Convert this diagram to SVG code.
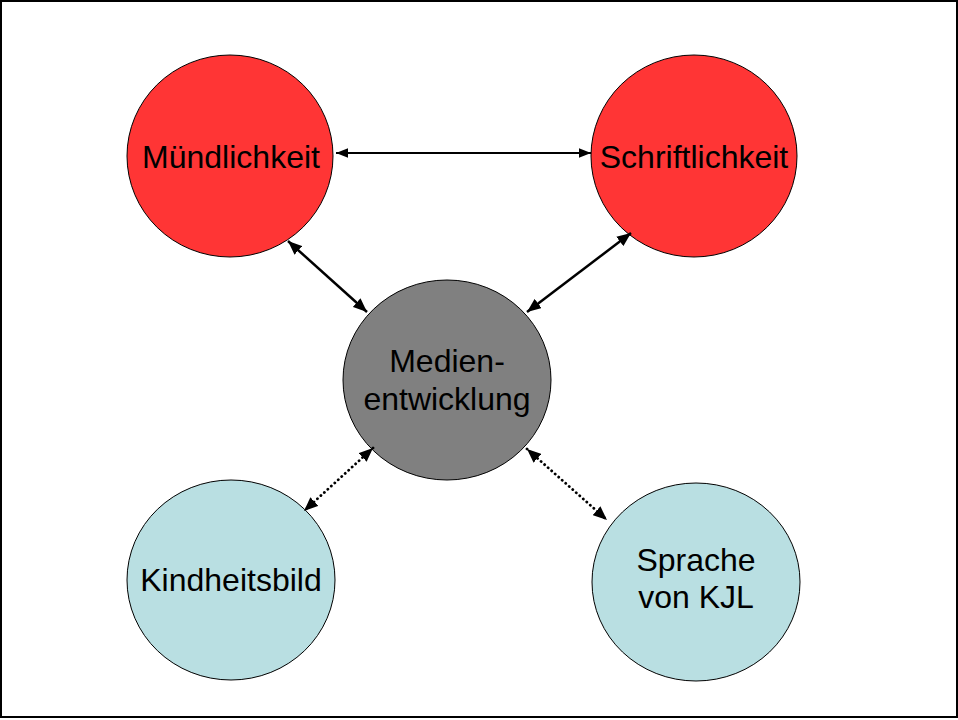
<svg xmlns="http://www.w3.org/2000/svg" width="958" height="720" viewBox="0 0 958 720">
<defs>
<style>
.node ellipse{stroke:#000;stroke-width:1}
.red ellipse{fill:#FF3535}
.gray ellipse{fill:#808080}
.blue ellipse{fill:#B9DFE2}
.node text{font-family:"Liberation Sans",Arial,sans-serif;font-size:32px;fill:#000;text-anchor:middle}
.conn{stroke:#000;fill:none}
.solid{stroke-width:2.5;marker-start:url(#ah);marker-end:url(#ah)}
.thin{stroke-width:2;marker-start:url(#ahs);marker-end:url(#ahs)}
.dot{stroke-width:2.8;stroke-linecap:round;stroke-dasharray:0.1 4.6;marker-start:url(#ah);marker-end:url(#ah)}
</style>
<marker id="ah" markerUnits="userSpaceOnUse" markerWidth="14" markerHeight="12" refX="12" refY="5" orient="auto-start-reverse" viewBox="0 0 12 10">
<path d="M0,0 L12,5 L0,10 Z" fill="#000"/>
</marker>
<marker id="ahs" markerUnits="userSpaceOnUse" markerWidth="12" markerHeight="10" refX="10" refY="4" orient="auto-start-reverse" viewBox="0 0 10 8">
<path d="M0,0 L10,4 L0,8 Z" fill="#000"/>
</marker>
</defs>
<rect x="0" y="0" width="958" height="720" fill="#fff"/>
<rect x="1" y="1" width="956" height="716" fill="none" stroke="#000" stroke-width="2"/>
<g id="n-muendlichkeit" class="node red">
<ellipse cx="230" cy="156" rx="103" ry="101"/>
<text x="231" y="168">Mündlichkeit</text>
</g>
<g id="n-schriftlichkeit" class="node red">
<ellipse cx="694" cy="156" rx="103" ry="101"/>
<text x="694" y="168">Schriftlichkeit</text>
</g>
<g id="n-medien" class="node gray">
<ellipse cx="447" cy="380" rx="104" ry="100"/>
<text x="447" y="372">Medien-</text>
<text x="447" y="410">entwicklung</text>
</g>
<g id="n-kindheitsbild" class="node blue">
<ellipse cx="231" cy="580" rx="104" ry="100"/>
<text x="231" y="591">Kindheitsbild</text>
</g>
<g id="n-sprache" class="node blue">
<ellipse cx="696" cy="582" rx="104" ry="99"/>
<text x="696" y="571">Sprache</text>
<text x="696" y="608">von KJL</text>
</g>
<g id="connectors">
<path class="conn thin" d="M336,153 L591,153"/>
<path class="conn solid" d="M288,241 L367,312"/>
<path class="conn solid" d="M631,233 L527,312"/>
<path class="conn dot" d="M373,448 L304,511"/>
<path class="conn dot" d="M527,449 L607,520"/>
</g>
</svg>
